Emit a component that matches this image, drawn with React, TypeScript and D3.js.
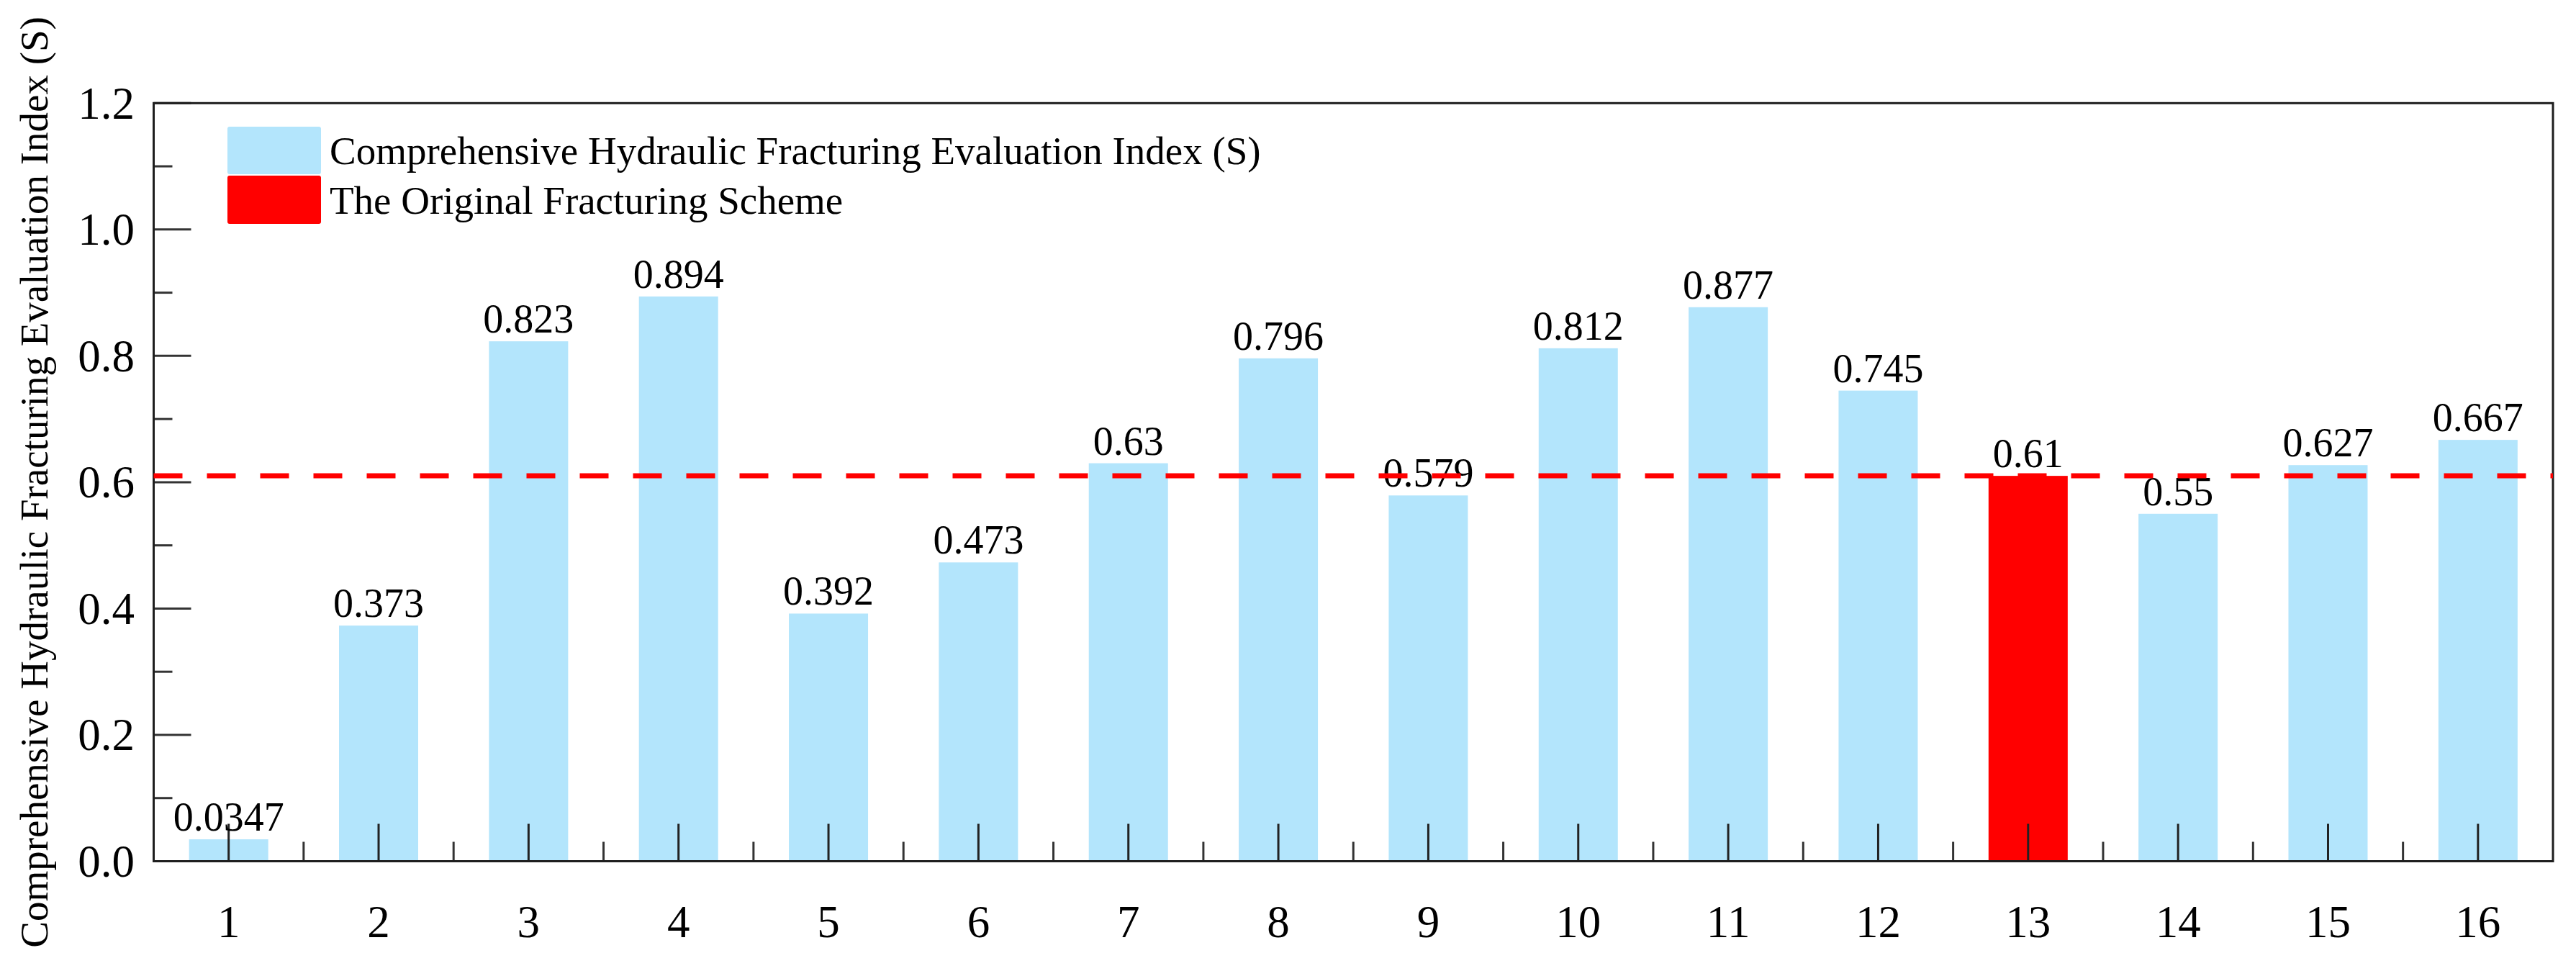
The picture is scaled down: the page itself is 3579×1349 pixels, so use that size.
import React from "react";
import * as d3 from "d3";

const categories: string[] = ["1","2","3","4","5","6","7","8","9","10","11","12","13","14","15","16"];
const values: number[] = [0.0347,0.373,0.823,0.894,0.392,0.473,0.63,0.796,0.579,0.812,0.877,0.745,0.61,0.55,0.627,0.667];
const valueLabels: string[] = ["0.0347","0.373","0.823","0.894","0.392","0.473","0.63","0.796","0.579","0.812","0.877","0.745","0.61","0.55","0.627","0.667"];
const highlightCategory = "13";
const referenceValue = 0.61;
const yMajorTicks: number[] = [0, 0.2, 0.4, 0.6, 0.8, 1.0, 1.2];
const yMinorTicks: number[] = [0.1, 0.3, 0.5, 0.7, 0.9, 1.1];
const legendItems: string[] = ["Comprehensive Hydraulic Fracturing Evaluation Index (S)", "The Original Fracturing Scheme"];
const yTitle = "Comprehensive Hydraulic Fracturing Evaluation Index (S)";

const W = 3579, H = 1349;
const L = 213.5, R = 3547, T = 143.3, B = 1196.5;
const BLUE = "#b3e5fc";
const RED = "#ff0000";
const FONT = "Liberation Serif, DejaVu Serif, serif";
const AX = "#1e1e1e";

export default function App() {
  const x = d3.scaleBand<string>().domain(categories).range([L, R]).paddingInner(0.472).paddingOuter(0.236);
  const y = d3.scaleLinear().domain([0, 1.2]).range([B, T]);
  const step = x.step();
  const bw = x.bandwidth();
  const center = (c: string) => (x(c) as number) + bw / 2;
  const boundaries = categories.slice(1).map((c) => center(c) - step / 2);
  const ts = { fontFamily: FONT };

  return (
    <svg width={W} height={H} style={{ position: "absolute", left: 0, top: 0, background: "#fff", fontFamily: FONT }}>
      <rect x={0} y={0} width={W} height={H} fill="#fff" />
      {categories.map((c, i) => (
        <rect key={c} x={x(c)} y={y(values[i])} width={bw} height={B - y(values[i])}
          fill={c === highlightCategory ? RED : BLUE} />
      ))}
      {yMajorTicks.map((t) => (
        <line key={"ym" + t} x1={L} x2={L + 52} y1={y(t)} y2={y(t)} stroke="#333" strokeWidth={3} />
      ))}
      {yMinorTicks.map((t) => (
        <line key={"yn" + t} x1={L} x2={L + 26} y1={y(t)} y2={y(t)} stroke="#333" strokeWidth={3} />
      ))}
      {yMajorTicks.map((t) => (
        <text key={"yl" + t} style={ts} x={187} y={y(t) + 63 * 0.34} fontSize={63} textAnchor="end" fill="#000">
          {t.toFixed(1)}
        </text>
      ))}
      {categories.map((c) => (
        <line key={"xm" + c} x1={center(c)} x2={center(c)} y1={B} y2={B - 52} stroke="#222" strokeWidth={3} />
      ))}
      {boundaries.map((b, i) => (
        <line key={"xn" + i} x1={b} x2={b} y1={B} y2={B - 27} stroke="#333" strokeWidth={3} />
      ))}
      {categories.map((c) => (
        <text key={"xl" + c} style={ts} x={center(c)} y={1302} fontSize={63} textAnchor="middle" fill="#000">{c}</text>
      ))}
      <rect x={L} y={T} width={R - L} height={B - T} fill="none" stroke={AX} strokeWidth={3} />
      {categories.map((c, i) => (
        <text key={"vl" + c} style={ts} x={center(c)} y={y(values[i]) - 12} fontSize={56} textAnchor="middle" fill="#000">
          {valueLabels[i]}
        </text>
      ))}
      <line x1={L} x2={R} y1={y(referenceValue)} y2={y(referenceValue)} stroke={RED} strokeWidth={7} strokeDasharray="40 34" />
      <rect x={316} y={176} width={130} height={66} rx={3} fill={BLUE} />
      <rect x={316} y={244} width={130} height={67} rx={3} fill={RED} />
      <text style={ts} x={458} y={228} fontSize={55} fill="#000">{legendItems[0]}</text>
      <text style={ts} x={458} y={297} fontSize={55} fill="#000">{legendItems[1]}</text>
      <text style={ts} transform={`translate(66, ${(T + B) / 2}) rotate(-90)`} fontSize={55} textAnchor="middle" fill="#000">{yTitle}</text>
    </svg>
  );
}
